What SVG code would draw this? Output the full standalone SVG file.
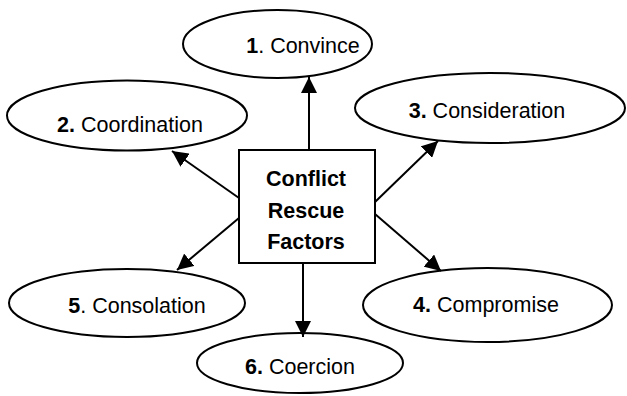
<svg xmlns="http://www.w3.org/2000/svg" width="627" height="396" viewBox="0 0 627 396">
<style>
.n{fill:#fff;stroke:#000;stroke-width:2}
.t{font-family:"Liberation Sans",Arial,sans-serif;font-size:21.5px;fill:#000;text-anchor:middle}
.b{font-weight:bold}
.c{stroke:#000;stroke-width:2;fill:none;marker-end:url(#ah)}
</style>
<defs>
<marker id="ah" markerUnits="userSpaceOnUse" markerWidth="16" markerHeight="16" refX="14" refY="7" orient="auto" viewBox="0 0 14 14">
<path d="M0,0 L14,7 L0,14 Z" fill="#000"/>
</marker>
</defs>
<rect width="627" height="396" fill="#fff"/>
<g id="n1"><ellipse class="n" cx="277.5" cy="44" rx="94.5" ry="34"/><text class="t" x="303" y="53"><tspan class="b">1</tspan>. Convince</text></g>
<g id="n2"><ellipse class="n" cx="127" cy="115.5" rx="120" ry="35"/><text class="t" x="130" y="132"><tspan class="b">2.</tspan> Coordination</text></g>
<g id="n3"><ellipse class="n" cx="490" cy="108" rx="135" ry="35"/><text class="t" x="487" y="118"><tspan class="b">3.</tspan> Consideration</text></g>
<g id="n4"><ellipse class="n" cx="487.5" cy="305" rx="124.5" ry="37"/><text class="t" x="486" y="312"><tspan class="b">4.</tspan> Compromise</text></g>
<g id="n5"><ellipse class="n" cx="127" cy="303" rx="118" ry="34"/><text class="t" x="137" y="313"><tspan class="b">5</tspan>. Consolation</text></g>
<g id="n6"><ellipse class="n" cx="300" cy="363" rx="103" ry="30"/><text class="t" x="300" y="374"><tspan class="b">6.</tspan> Coercion</text></g>
<g id="center"><rect class="n" x="239" y="150" width="136" height="113"/>
<text class="t b" x="306" y="186">Conflict</text>
<text class="t b" x="306" y="218">Rescue</text>
<text class="t b" x="306" y="249">Factors</text></g>
<g id="connectors">
<line class="c" x1="309" y1="150" x2="309" y2="77"/>
<line class="c" x1="239" y1="198" x2="172" y2="151"/>
<line class="c" x1="375" y1="202" x2="438" y2="141"/>
<line class="c" x1="375" y1="214" x2="441" y2="271"/>
<line class="c" x1="239" y1="218" x2="177" y2="270"/>
<line class="c" x1="303" y1="263" x2="303" y2="337"/>
</g>
</svg>
